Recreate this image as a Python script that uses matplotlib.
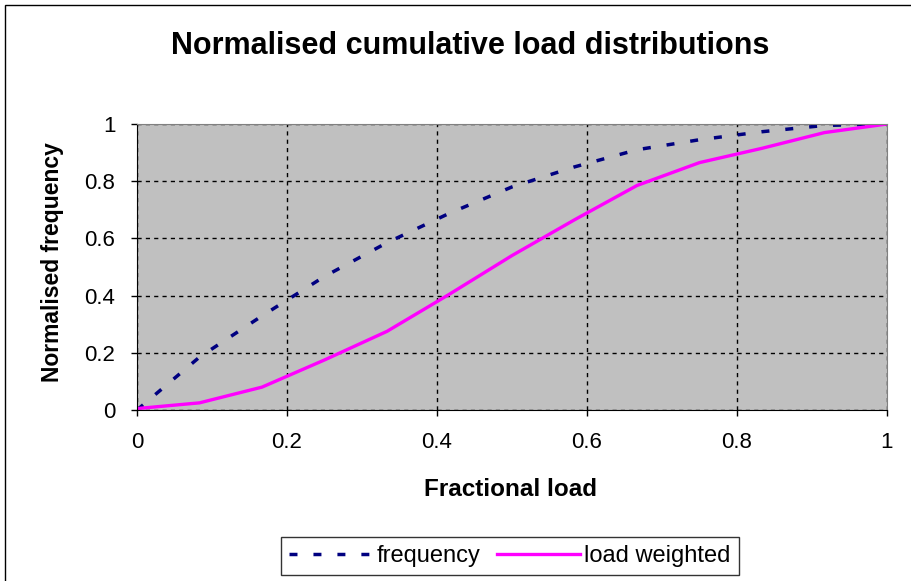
import numpy as np
import matplotlib.pyplot as plt
from matplotlib.patches import Rectangle

plt.rcParams['font.family'] = ['Liberation Sans', 'DejaVu Sans']

# fractional load positions (twelfths)
load_x = [0, 1/12, 2/12, 3/12, 4/12, 5/12, 6/12, 7/12, 8/12, 9/12, 10/12, 11/12, 1]
frequency = [0, 0.185, 0.329, 0.467, 0.585, 0.688, 0.78, 0.85, 0.91, 0.945, 0.973, 0.995, 1.0]
load_weighted = [0.005, 0.025, 0.08, 0.175, 0.275, 0.405, 0.54, 0.665, 0.785, 0.865, 0.915, 0.97, 1.0]

x_ticks = [0, 0.2, 0.4, 0.6, 0.8, 1]
y_ticks = [0, 0.2, 0.4, 0.6, 0.8, 1]
x_labels = ['0', '0.2', '0.4', '0.6', '0.8', '1']
y_labels = ['0', '0.2', '0.4', '0.6', '0.8', '1']

W, H = 912, 581
fig = plt.figure(figsize=(W/100, H/100), dpi=100)
fig.patch.set_facecolor('white')

# plot area in pixels: x 137..887, y 124..410
ax = fig.add_axes([137/W, 1-410/H, 750/W, 286/H])
ax.set_facecolor('#c0c0c0')

ax.plot(load_x, frequency, color='#000080', lw=2.5, dashes=(2.3, 4.6), label='frequency')
ax.plot(load_x, load_weighted, color='#ff00ff', lw=2.4, label='load weighted')

ax.set_xlim(0, 1)
ax.set_ylim(0, 1)
ax.set_xticks(x_ticks)
ax.set_xticklabels(x_labels, fontsize=16)
ax.set_yticks(y_ticks)
ax.set_yticklabels(y_labels, fontsize=16)
ax.tick_params(axis='both', direction='out', length=4.5, width=1, color='black')
ax.tick_params(axis='x', pad=11)
ax.tick_params(axis='y', pad=11)
ax.grid(True, color='black', linestyle=(0, (3, 3)), lw=1)

for s in ['top', 'right']:
    ax.spines[s].set_color('#808080')
for s in ['left', 'bottom']:
    ax.spines[s].set_color('black')

ax.set_xlabel('Fractional load', fontsize=17.5, fontweight='bold', va='center')
ax.xaxis.set_label_coords(511/W, 1-490/H, transform=fig.transFigure)
ax.set_ylabel('Normalised frequency', fontsize=16.5, fontweight='bold', va='center')
ax.yaxis.set_label_coords(53/W, 1-262/H, transform=fig.transFigure)

fig.text(470/W, 1-46/H, 'Normalised cumulative load distributions', fontsize=22,
         fontweight='bold', ha='center', va='center')

leg = ax.legend(loc='center', bbox_to_anchor=(510/W, 1-556/H), bbox_transform=fig.transFigure,
                ncol=2, fontsize=17, frameon=True, fancybox=False, handlelength=3.5,
                handletextpad=0.2, columnspacing=0.7, borderpad=0.35)
leg.get_frame().set_edgecolor('black')
leg.get_frame().set_linewidth(1)

# outer chart border
fig.patches.append(Rectangle((5/W, -0.1), 1.2, 1 - 5/H + 0.1, transform=fig.transFigure,
                             fill=False, edgecolor='black', lw=1))

fig.savefig('out.png', dpi=100)
